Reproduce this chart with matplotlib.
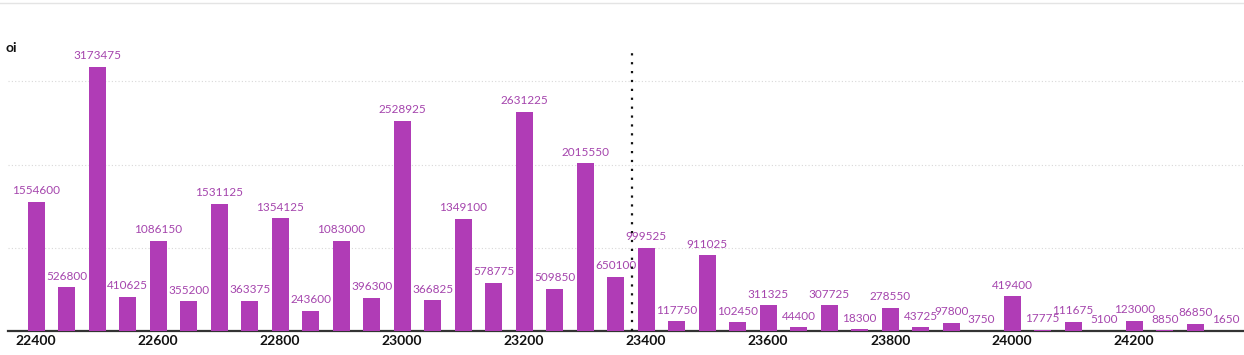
import matplotlib
matplotlib.use("Agg")
import matplotlib.pyplot as plt
import numpy as np
from matplotlib.lines import Line2D

# strikes and open interest
strikes = list(range(22400, 24400, 50))
oi = [1554600, 526800, 3173475, 410625, 1086150, 355200, 1531125, 363375,
      1354125, 243600, 1083000, 396300, 2528925, 366825, 1349100, 578775,
      2631225, 509850, 2015550, 650100, 999525, 117750, 911025, 102450,
      311325, 44400, 307725, 18300, 278550, 43725, 97800, 3750,
      419400, 17775, 111675, 5100, 123000, 8850, 86850, 1650]
xticks = [22400, 22600, 22800, 23000, 23200, 23400, 23600, 23800, 24000, 24200]
spot = 23377

plt.rcParams['font.family'] = ['Lato', 'DejaVu Sans']

fig = plt.figure(figsize=(12.44, 3.55), dpi=100)
ax = fig.add_axes([8/1244, 24/355, 1 - 8/1244, (331-53)/355])

bar_col = '#b03cb6'
lab_col = '#a545ad'
ax.bar(strikes, oi, width=28, color=bar_col, zorder=3)

for x, v in zip(strikes, oi):
    ax.annotate(str(v), (x, v), xytext=(0, 4), textcoords='offset points',
                ha='center', va='bottom', fontsize=8.5, color=lab_col, zorder=4)

ax.set_xlim(22354, 24380)
ax.set_ylim(0, 3.34e6)
ax.set_xticks(xticks)
ax.set_xticklabels([str(t) for t in xticks], fontsize=10, fontweight='bold', color='#111111')
ax.set_yticks([1e6, 2e6, 3e6])
ax.set_yticklabels([])
ax.tick_params(axis='both', length=0, pad=3)
ax.grid(axis='y', color='#d8d8d8', linestyle=(0, (1, 2)), linewidth=0.8, zorder=0)

for s in ['top', 'right', 'left']:
    ax.spines[s].set_visible(False)
ax.spines['bottom'].set_color('#333333')
ax.spines['bottom'].set_linewidth(1.6)

# spot line
ax.axvline(spot, color='#111111', linestyle=(0, (1, 3)), linewidth=1.6, zorder=5)

fig.text(5/1244, 1 - 48/355, 'oi', fontsize=10, fontweight='bold', color='#111111', va='center')
fig.add_artist(Line2D([0, 1], [1 - 3/355, 1 - 3/355], color='#e4e4e4', linewidth=1))

fig.savefig('out.png', dpi=100)
